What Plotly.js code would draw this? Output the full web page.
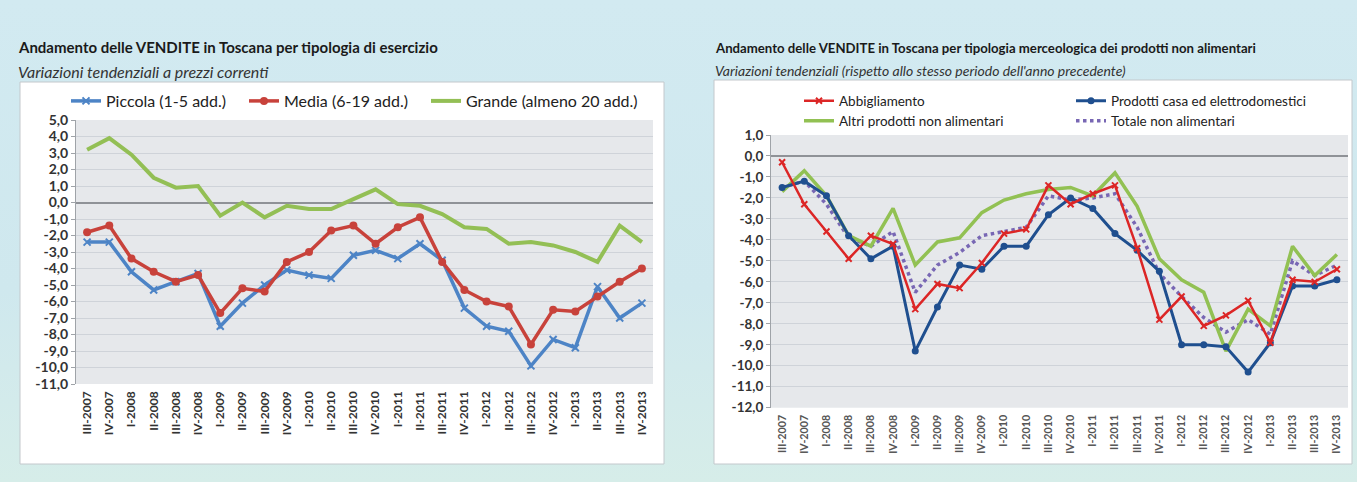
<!DOCTYPE html>
<html>
<head>
<meta charset="utf-8">
<script src="https://cdn.plot.ly/plotly-3.0.1.min.js"></script>
<style>
html,body{margin:0;padding:0;}
body{width:1357px;height:482px;overflow:hidden;background:linear-gradient(180deg,#d2eaf1 0%,#cfe8ee 60%,#d6ede9 100%);}
#chart{width:1357px;height:482px;}
</style>
</head>
<body>
<div id="chart"></div>
<script>
// ---------- DATA ----------
const categories = ['III-2007','IV-2007','I-2008','II-2008','III-2008','IV-2008','I-2009','II-2009','III-2009','IV-2009','I-2010','II-2010','III-2010','IV-2010','I-2011','II-2011','III-2011','IV-2011','I-2012','II-2012','III-2012','IV-2012','I-2013','II-2013','III-2013','IV-2013'];

// Left chart: tipologia di esercizio
const piccola = [-2.4,-2.4,-4.2,-5.3,-4.8,-4.3,-7.5,-6.1,-5.0,-4.1,-4.4,-4.6,-3.2,-2.9,-3.4,-2.5,-3.5,-6.4,-7.5,-7.8,-9.9,-8.3,-8.8,-5.1,-7.0,-6.1];
const media   = [-1.8,-1.4,-3.4,-4.2,-4.8,-4.4,-6.7,-5.2,-5.4,-3.6,-3.0,-1.7,-1.4,-2.5,-1.5,-0.9,-3.6,-5.3,-6.0,-6.3,-8.6,-6.5,-6.6,-5.7,-4.8,-4.0];
const grande  = [3.2,3.9,2.9,1.5,0.9,1.0,-0.8,0.0,-0.9,-0.2,-0.4,-0.4,0.2,0.8,-0.1,-0.2,-0.7,-1.5,-1.6,-2.5,-2.4,-2.6,-3.0,-3.6,-1.4,-2.4];

// Right chart: tipologia merceologica non alimentari
const abbigliamento = [-0.3,-2.3,-3.6,-4.9,-3.8,-4.2,-7.3,-6.1,-6.3,-5.1,-3.7,-3.5,-1.4,-2.3,-1.8,-1.4,-4.4,-7.8,-6.7,-8.1,-7.6,-6.9,-8.9,-5.9,-6.0,-5.4];
const prodottiCasa  = [-1.5,-1.2,-1.9,-3.8,-4.9,-4.3,-9.3,-7.2,-5.2,-5.4,-4.3,-4.3,-2.8,-2.0,-2.5,-3.7,-4.5,-5.5,-9.0,-9.0,-9.1,-10.3,-8.9,-6.2,-6.2,-5.9];
const altriProdotti = [-1.7,-0.7,-1.9,-3.8,-4.3,-2.5,-5.2,-4.1,-3.9,-2.7,-2.1,-1.8,-1.6,-1.5,-1.9,-0.8,-2.4,-4.9,-5.9,-6.5,-9.3,-7.3,-8.1,-4.3,-5.7,-4.7];
const totaleNonAlim = [-1.5,-1.2,-2.3,-3.9,-4.3,-3.6,-6.5,-5.2,-4.6,-3.8,-3.6,-3.4,-1.9,-2.1,-2.0,-1.8,-3.4,-5.6,-6.7,-7.7,-8.4,-7.8,-8.5,-5.0,-5.7,-5.2];

// Tick labels
const leftTickVals  = [5,4,3,2,1,0,-1,-2,-3,-4,-5,-6,-7,-8,-9,-10,-11];
const leftTickText  = ['5,0','4,0','3,0','2,0','1,0','0,0','-1,0','-2,0','-3,0','-4,0','-5,0','-6,0','-7,0','-8,0','-9,0','-10,0','-11,0'];
const rightTickVals = [1,0,-1,-2,-3,-4,-5,-6,-7,-8,-9,-10,-11,-12];
const rightTickText = ['1,0','0,0','-1,0','-2,0','-3,0','-4,0','-5,0','-6,0','-7,0','-8,0','-9,0','-10,0','-11,0','-12,0'];

// Texts
const leftTitle = 'Andamento delle VENDITE in Toscana per tipologia di esercizio';
const leftSubtitle = 'Variazioni tendenziali a prezzi correnti';
const rightTitle = 'Andamento delle VENDITE in Toscana per tipologia merceologica dei prodotti non alimentari';
const rightSubtitle = "Variazioni tendenziali (rispetto allo stesso periodo dell'anno precedente)";

// ---------- LAYOUT HELPERS ----------
const W = 1357, H = 482;
const fx = x => x / W;
const fy = y => 1 - y / H;
const FONT = 'Lato, "Open Sans", sans-serif';

const traces = [
  {x: categories, y: piccola, name: 'Piccola (1-5 add.)', type: 'scatter', mode: 'lines+markers',
   xaxis: 'x', yaxis: 'y', legend: 'legend',
   line: {color: '#4d84c6', width: 3.5},
   marker: {symbol: 'x-thin-open', size: 7, line: {color: '#4d84c6', width: 2}}},
  {x: categories, y: media, name: 'Media (6-19 add.)', type: 'scatter', mode: 'lines+markers',
   xaxis: 'x', yaxis: 'y', legend: 'legend2',
   line: {color: '#c8423b', width: 3.5},
   marker: {symbol: 'circle', size: 8, color: '#c8423b'}},
  {x: categories, y: grande, name: 'Grande (almeno 20 add.)', type: 'scatter', mode: 'lines',
   xaxis: 'x', yaxis: 'y', legend: 'legend3',
   line: {color: '#93bf55', width: 4}},

  {x: categories, y: totaleNonAlim, name: 'Totale non alimentari', type: 'scatter', mode: 'lines',
   xaxis: 'x2', yaxis: 'y2', legend: 'legend7',
   line: {color: '#7867b4', width: 3.5, dash: 'dot'}},
  {x: categories, y: altriProdotti, name: 'Altri prodotti non alimentari', type: 'scatter', mode: 'lines',
   xaxis: 'x2', yaxis: 'y2', legend: 'legend6',
   line: {color: '#92c153', width: 3.5}},
  {x: categories, y: prodottiCasa, name: 'Prodotti casa ed elettrodomestici', type: 'scatter', mode: 'lines+markers',
   xaxis: 'x2', yaxis: 'y2', legend: 'legend5',
   line: {color: '#1f4f8f', width: 3},
   marker: {symbol: 'circle', size: 7, color: '#1f4f8f'}},
  {x: categories, y: abbigliamento, name: 'Abbigliamento', type: 'scatter', mode: 'lines+markers',
   xaxis: 'x2', yaxis: 'y2', legend: 'legend4',
   line: {color: '#dc2626', width: 2.5},
   marker: {symbol: 'x-thin-open', size: 6, line: {color: '#dc2626', width: 2}}}
];

const legFontL = {family: FONT, size: 16, color: '#222'};
const legFontR = {family: FONT, size: 13.5, color: '#222'};
function leg(x, y, font) {
  return {x: fx(x), y: fy(y), xanchor: 'left', yanchor: 'middle', orientation: 'h',
          bgcolor: 'rgba(0,0,0,0)', borderwidth: 0, font: font, tracegroupgap: 0};
}

const layout = {
  width: W, height: H,
  margin: {l: 0, r: 0, t: 0, b: 0, pad: 0},
  paper_bgcolor: 'rgba(0,0,0,0)',
  plot_bgcolor: 'rgba(0,0,0,0)',
  font: {family: FONT, color: '#222'},
  showlegend: true,
  xaxis: {domain: [fx(76), fx(653)], anchor: 'y', type: 'category', range: [-0.5, 25.5],
          tickangle: -90, tickfont: {family: FONT, size: 12, color: '#333', weight: 'bold'},
          ticklabelstandoff: 4,
          showgrid: false, showline: false, ticks: '', zeroline: false, automargin: false},
  yaxis: {domain: [fy(384), fy(120)], anchor: 'x', range: [-11, 5],
          tickvals: leftTickVals, ticktext: leftTickText,
          tickfont: {family: FONT, size: 14, color: '#333', weight: 'bold'},
          showgrid: true, gridcolor: '#cfd3d9', gridwidth: 1,
          zeroline: true, zerolinecolor: '#8f9297', zerolinewidth: 2,
          showline: true, linecolor: '#9fa3a8', linewidth: 1,
          ticks: 'outside', ticklen: 4, tickcolor: '#9fa3a8', automargin: false},
  xaxis2: {domain: [fx(771), fx(1348)], anchor: 'y2', type: 'category', range: [-0.5, 25.5],
           tickangle: -90, tickfont: {family: FONT, size: 10.7, color: '#555', weight: 'bold'},
           ticklabelstandoff: 4,
           showgrid: false, showline: false, ticks: '', zeroline: false, automargin: false},
  yaxis2: {domain: [fy(407.7), fy(135)], anchor: 'x2', range: [-12, 1],
           tickvals: rightTickVals, ticktext: rightTickText,
           tickfont: {family: FONT, size: 13.5, color: '#333', weight: 'bold'},
           showgrid: true, gridcolor: '#cfd3d9', gridwidth: 1,
           zeroline: true, zerolinecolor: '#8f9297', zerolinewidth: 2,
           showline: true, linecolor: '#9fa3a8', linewidth: 1,
           ticks: 'outside', ticklen: 4, tickcolor: '#9fa3a8', automargin: false},
  legend:  leg(66, 101, legFontL),
  legend2: leg(244, 101, legFontL),
  legend3: leg(426, 101, legFontL),
  legend4: leg(799, 101, legFontR),
  legend5: leg(1071, 101, legFontR),
  legend6: leg(799, 121, legFontR),
  legend7: leg(1071, 121, legFontR),
  shapes: [
    {type: 'rect', xref: 'paper', yref: 'paper', x0: fx(20), x1: fx(664), y0: fy(464), y1: fy(82),
     fillcolor: '#ffffff', line: {color: '#c3c8cc', width: 1}, layer: 'below'},
    {type: 'rect', xref: 'paper', yref: 'paper', x0: fx(714), x1: fx(1352), y0: fy(464), y1: fy(80),
     fillcolor: '#ffffff', line: {color: '#c3c8cc', width: 1}, layer: 'below'},
    {type: 'rect', xref: 'x domain', yref: 'y domain', x0: 0, x1: 1, y0: 0, y1: 1,
     fillcolor: '#e6e8eb', line: {width: 0}, layer: 'below'},
    {type: 'rect', xref: 'x2 domain', yref: 'y2 domain', x0: 0, x1: 1, y0: 0, y1: 1,
     fillcolor: '#e6e8eb', line: {width: 0}, layer: 'below'}
  ],
  annotations: [
    {text: leftTitle, xref: 'paper', yref: 'paper', x: fx(16), y: fy(47), xanchor: 'left', yanchor: 'middle',
     showarrow: false, font: {family: FONT, size: 15, color: '#1a1a1a', weight: 'bold'}},
    {text: '<i>' + leftSubtitle + '</i>', xref: 'paper', yref: 'paper', x: fx(16), y: fy(71), xanchor: 'left', yanchor: 'middle',
     showarrow: false, font: {family: FONT, size: 16, color: '#333'}},
    {text: rightTitle, xref: 'paper', yref: 'paper', x: fx(713), y: fy(48), xanchor: 'left', yanchor: 'middle',
     showarrow: false, font: {family: FONT, size: 13.2, color: '#1a1a1a', weight: 'bold'}},
    {text: '<i>' + rightSubtitle + '</i>', xref: 'paper', yref: 'paper', x: fx(713), y: fy(70), xanchor: 'left', yanchor: 'middle',
     showarrow: false, font: {family: FONT, size: 14, color: '#333'}}
  ]
};

Plotly.newPlot('chart', traces, layout, {staticPlot: true, displayModeBar: false});
</script>
</body>
</html>
